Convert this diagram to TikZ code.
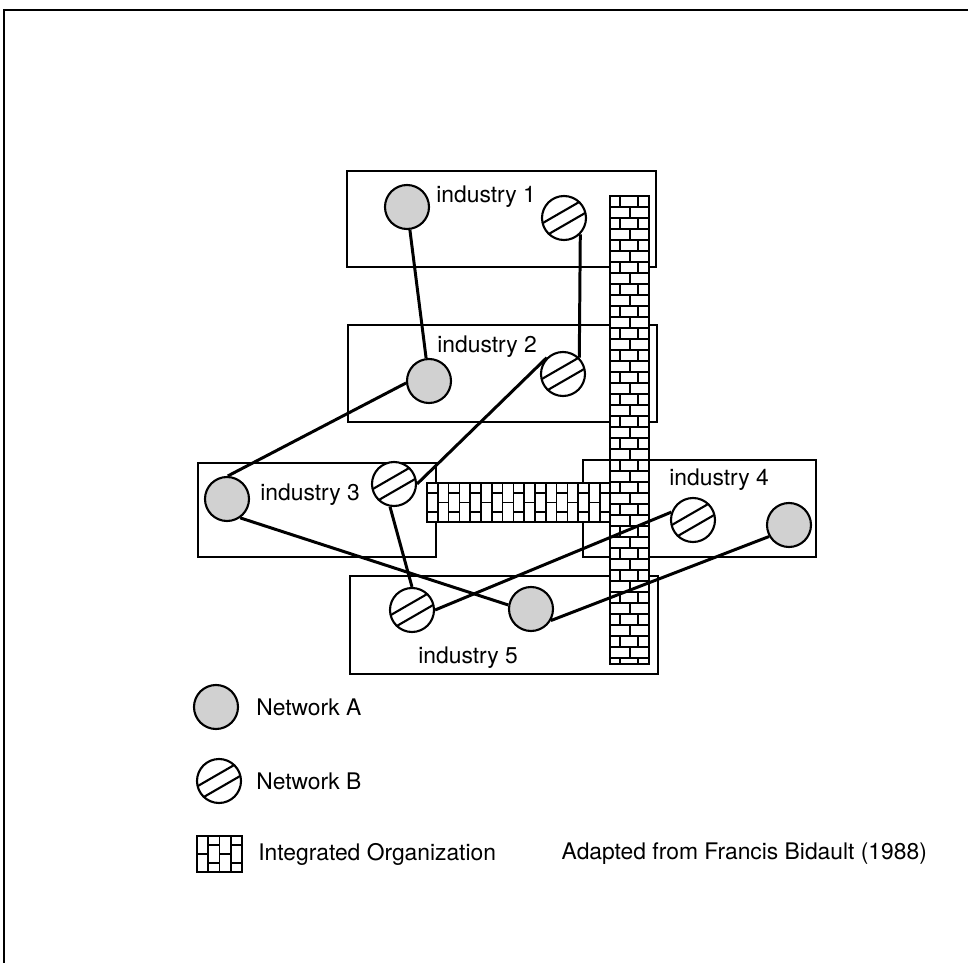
\documentclass[tikz,border=0pt]{standalone}
\usepackage{fontspec}
\setmainfont{TeX Gyre Heros}
\usetikzlibrary{positioning}

\begin{document}
\begin{tikzpicture}[
        x=0.02cm, y=-0.02cm,
        font=\fontsize{13}{15}\selectfont,
        frame/.style={line width=1.5pt},
        box/.style={draw, line width=1.2pt},
        net/.style={circle, draw, line width=1.2pt, minimum size=0.88cm, inner sep=0pt},
        neta/.style={net, fill=black!18},
        netb/.style={net, fill=white, path picture={
            \draw[line width=1.2pt]
              ([shift={(120:0.125cm)}]path picture bounding box.center) ++(30:-0.6cm) -- ++(30:1.2cm)
              ([shift={(-60:0.125cm)}]path picture bounding box.center) ++(30:-0.6cm) -- ++(30:1.2cm);
        }},
        wallfill/.style={fill=white},
        walledge/.style={draw, line width=1.4pt},
        mortar/.style={line width=1pt},
        link/.style={line width=1.7pt},
        lbl/.style={inner sep=0pt, anchor=base west},
        txt/.style={inner sep=0pt}
    ]
        \useasboundingbox (0,0) rectangle (968,963);
        \draw[frame] (4,963) -- (4,10) -- (968,10);

        \draw[box] (347,171) rectangle (656,267);
        \draw[box] (348,325) rectangle (657,422);
        \draw[box] (198,463) rectangle (436,557);
        \draw[box] (583,460) rectangle (816,557);
        \draw[box] (350,576) rectangle (658,674);

        \node[lbl] (ind1) at (436,203) {industry 1};
        \node[lbl] (ind2) at (437,353) {industry 2};
        \node[lbl] (ind3) at (260,500) {industry 3};
        \node[lbl] (ind4) at (669,485) {industry 4};
        \node[lbl] (ind5) at (418,663) {industry 5};

        \fill[wallfill] (427,483) rectangle (610,522);
        \foreach \i in {0,...,16}{
            \pgfmathsetmacro\xa{427+10.8*\i}
            \draw[mortar] (\xa,483) -- (\xa,522);
            \ifodd\i
                \draw[mortar] (\xa,502.5) -- ++(10.8,0);
            \else
                \draw[mortar] (\xa,493) -- ++(10.8,0) (\xa,512) -- ++(10.8,0);
            \fi
        }
        \draw[walledge] (427,483) rectangle (610,522);

        \fill[wallfill] (610,196) rectangle (649,664);
        \begin{scope}
            \clip (610,196) rectangle (649,664);
            \foreach \i in {0,...,42}{
                \pgfmathsetmacro\ya{196+11*\i}
                \draw[mortar] (610,\ya) -- (649,\ya);
                \ifodd\i
                    \draw[mortar] (630,\ya) -- ++(0,11);
                \else
                    \draw[mortar] (620,\ya) -- ++(0,11) (638,\ya) -- ++(0,11);
                \fi
            }
        \end{scope}
        \draw[walledge] (610,196) rectangle (649,664);

        \node[neta] (a1) at (407,207) {};
        \node[netb] (b1) at (564,218) {};
        \node[neta] (a2) at (429,381) {};
        \node[netb] (b2) at (563,374) {};
        \node[neta] (a3) at (227,499) {};
        \node[netb] (b3) at (394,484) {};
        \node[netb] (b4) at (693,520) {};
        \node[neta] (a4) at (789,525) {};
        \node[netb] (b5) at (412,610) {};
        \node[neta] (a5) at (531,609) {};

        \draw[link] (a1) -- (a2);
        \draw[link] (b1.-45) -- (b2.45);
        \draw[link] (a2.185) -- (a3.88);
        \draw[link] (b2.135) -- (b3.east);
        \draw[link] (a3.-55) -- (a5.170);
        \draw[link] (b3.-100) -- (b5.north);
        \draw[link] (b5.east) -- (b4.160);
        \draw[link] (a5.-30) -- (a4.-150);

        \node[neta] (la) at (216,707) {};
        \node[netb] (lb) at (219,781) {};
        \node[draw, fill=white, line width=1.2pt, minimum width=0.9cm, minimum height=0.72cm, inner sep=0pt] (lw) at (219.5,854) {};
        \foreach \i in {1,2,3}
            \draw[mortar] (197+11.25*\i,836) -- (197+11.25*\i,872);
        \foreach \i in {0,2}
            \draw[mortar] (197+11.25*\i,854) -- ++(11.25,0);
        \foreach \i in {1,3}
            \draw[mortar] (197+11.25*\i,845) -- ++(11.25,0) (197+11.25*\i,863) -- ++(11.25,0);

        \node[txt, right=0.34cm of la] (leg-a) {Network A};
        \node[txt, right=0.28cm of lb] (leg-b) {Network B};
        \node[txt, right=0.3cm of lw] (leg-w) {Integrated Organization};
        \node[txt, right=1.3cm of leg-w] (source) {Adapted from Francis Bidault (1988)};
    \end{tikzpicture}
\end{document}
